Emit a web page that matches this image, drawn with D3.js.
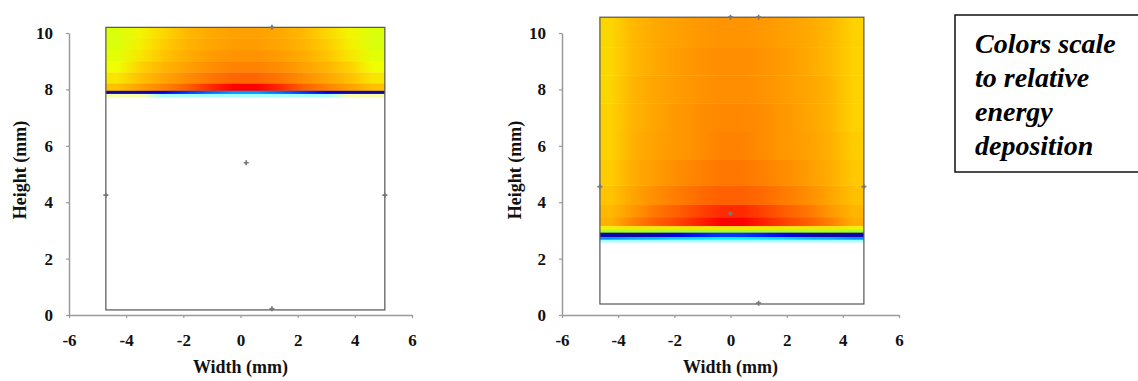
<!DOCTYPE html>
<html>
<head>
<meta charset="utf-8">
<script src="https://cdn.jsdelivr.net/npm/d3@7"></script>
</head>
<body style="margin:0">
<script>
// axis ticks shared by both panels
const xTicks = [-6, -4, -2, 0, 2, 4, 6];
const yTicks = [0, 2, 4, 6, 8, 10];

// left panel: sample outline (mm) and energy band
const leftSlab = { x0: -4.71, x1: 5.05, y0: 0.18, y1: 10.2 };
// row edges from top to bottom (mm)
const leftRowEdges = [10.2, 9.8, 9.4, 9.0, 8.6, 8.2, 7.95, 7.85];
// relative energy deposition, one row per band, 12 columns left to right
const leftValues = [
  [0.52, 0.57, 0.63, 0.70, 0.74, 0.76, 0.76, 0.74, 0.70, 0.63, 0.57, 0.52],
  [0.52, 0.58, 0.65, 0.71, 0.75, 0.77, 0.77, 0.75, 0.71, 0.65, 0.58, 0.52],
  [0.53, 0.60, 0.67, 0.73, 0.77, 0.79, 0.79, 0.77, 0.73, 0.67, 0.60, 0.53],
  [0.55, 0.64, 0.71, 0.76, 0.80, 0.82, 0.82, 0.80, 0.76, 0.71, 0.64, 0.55],
  [0.60, 0.68, 0.75, 0.80, 0.84, 0.87, 0.87, 0.84, 0.80, 0.75, 0.68, 0.60],
  [0.68, 0.76, 0.82, 0.88, 0.95, 1.00, 1.00, 0.95, 0.88, 0.82, 0.76, 0.68],
  [0.04, 0.05, 0.10, 0.16, 0.20, 0.23, 0.23, 0.20, 0.16, 0.10, 0.05, 0.04]
];
// faint band just under the slab edge
const leftHaloEdges = [7.85, 7.72];
const leftHalo = [0.55, 0.55, 0.30, 0.30, 0.30, 0.30, 0.30, 0.30, 0.30, 0.30, 0.55, 0.55];
const leftMarkers = [[0.2, 5.4], [-4.71, 4.25], [5.05, 4.25], [1.1, 10.2], [1.1, 0.22]];

// right panel
const rightSlab = { x0: -4.65, x1: 4.75, y0: 0.39, y1: 10.56 };
const rightRowEdges = [10.56, 9.5, 8.5, 7.5, 6.5, 5.5, 4.6, 3.9, 3.45, 3.15, 3.02, 2.92, 2.76, 2.68];
const rightValues = [
  [0.63, 0.70, 0.74, 0.76, 0.78, 0.79, 0.79, 0.78, 0.76, 0.74, 0.70, 0.64],
  [0.63, 0.70, 0.74, 0.77, 0.79, 0.80, 0.80, 0.79, 0.77, 0.74, 0.70, 0.64],
  [0.63, 0.71, 0.75, 0.77, 0.79, 0.80, 0.80, 0.79, 0.77, 0.75, 0.71, 0.64],
  [0.64, 0.71, 0.75, 0.78, 0.80, 0.81, 0.81, 0.80, 0.78, 0.75, 0.71, 0.64],
  [0.64, 0.72, 0.76, 0.78, 0.80, 0.82, 0.82, 0.80, 0.78, 0.76, 0.72, 0.65],
  [0.65, 0.73, 0.77, 0.80, 0.82, 0.84, 0.84, 0.82, 0.80, 0.77, 0.73, 0.66],
  [0.67, 0.75, 0.80, 0.83, 0.86, 0.88, 0.88, 0.86, 0.83, 0.80, 0.75, 0.68],
  [0.70, 0.78, 0.84, 0.88, 0.92, 0.95, 0.95, 0.92, 0.88, 0.84, 0.78, 0.71],
  [0.72, 0.82, 0.88, 0.92, 0.96, 1.00, 1.00, 0.96, 0.92, 0.88, 0.82, 0.73],
  [0.58, 0.60, 0.60, 0.60, 0.60, 0.60, 0.60, 0.60, 0.60, 0.60, 0.60, 0.58],
  [0.45, 0.46, 0.46, 0.46, 0.46, 0.46, 0.46, 0.46, 0.46, 0.46, 0.46, 0.45],
  [0.05, 0.04, 0.06, 0.10, 0.14, 0.16, 0.16, 0.14, 0.10, 0.06, 0.04, 0.05],
  [0.22, 0.24, 0.25, 0.27, 0.28, 0.29, 0.29, 0.28, 0.27, 0.25, 0.24, 0.22]
];
const rightHaloEdges = [2.68, 2.58];
const rightHalo = [0.30, 0.30, 0.30, 0.30, 0.30, 0.30, 0.30, 0.30, 0.30, 0.30, 0.30, 0.30];
const rightMarkers = [[-4.65, 4.55], [4.75, 4.55], [0, 10.56], [1.0, 10.56], [1.0, 0.42], [0, 3.6]];

const legendLines = ['Colors scale', 'to relative', 'energy', 'deposition'];

const fontName = 'Liberation Serif';

const color = d3.scaleLinear()
  .domain([0, 0.12, 0.3, 0.45, 0.55, 0.65, 0.78, 0.9, 1])
  .range(['#1a0a70', '#0000ff', '#00ffff', '#a8ff20', '#f0ff00', '#ffcc00', '#ff9900', '#ff5500', '#ff0000'])
  .clamp(true);

const svg = d3.select('body').append('svg').attr('width', 1138).attr('height', 381);
const defs = svg.append('defs');

const y = d3.scaleLinear().domain([0, 10]).range([315, 33]);

// one rect per row, filled with a horizontal gradient through its cell values
function drawRows(g, x, id, edges, rows, slab, opacity) {
  rows.forEach((row, i) => {
    let gradId = 'grad-' + id + '-' + i;
    let grad = defs.append('linearGradient')
      .attr('id', gradId)
      .attr('x1', 0).attr('x2', 1).attr('y1', 0).attr('y2', 0);
    grad.selectAll('stop')
      .data(row)
      .enter().append('stop')
      .attr('offset', (v, j) => (j + 0.5) / row.length)
      .attr('stop-color', v => color(v));

    g.append('rect')
      .attr('x', x(slab.x0))
      .attr('y', y(edges[i]))
      .attr('width', x(slab.x1) - x(slab.x0))
      .attr('height', y(edges[i + 1]) - y(edges[i]) + 0.3)
      .attr('fill', 'url(#' + gradId + ')')
      .attr('opacity', opacity);
  });
}

function drawPanel(cfg) {
  let x = d3.scaleLinear().domain([-6, 6]).range(cfg.xRange);
  let g = svg.append('g');

  drawRows(g, x, cfg.id + '-halo', cfg.haloEdges, [cfg.halo], cfg.slab, 0.35);
  drawRows(g, x, cfg.id, cfg.rowEdges, cfg.values, cfg.slab, 1);

  // slab outline
  g.append('rect')
    .attr('x', x(cfg.slab.x0))
    .attr('y', y(cfg.slab.y1))
    .attr('width', x(cfg.slab.x1) - x(cfg.slab.x0))
    .attr('height', y(cfg.slab.y0) - y(cfg.slab.y1))
    .attr('fill', 'none')
    .attr('stroke', '#555')
    .attr('stroke-width', 1.2);

  // axes
  let xAxis = g.append('g')
    .attr('transform', 'translate(0,' + y(0) + ')')
    .call(d3.axisBottom(x).tickValues(xTicks).tickSize(3).tickSizeOuter(0).tickPadding(16).tickFormat(d => String(d)));
  let yAxis = g.append('g')
    .attr('transform', 'translate(' + x(-6) + ',0)')
    .call(d3.axisLeft(y).tickValues(yTicks).tickSize(3).tickSizeOuter(0).tickPadding(13).tickFormat(d => String(d)));

  [xAxis, yAxis].forEach(a => {
    a.attr('font-family', fontName).attr('font-size', 17).attr('font-weight', 'bold');
    a.select('.domain').attr('stroke', '#9a9a9a').attr('stroke-width', 1.5);
    a.selectAll('.tick line').attr('stroke', '#9a9a9a').attr('stroke-width', 1.2);
    a.selectAll('.tick text').attr('fill', '#111');
  });

  // small markers
  g.selectAll('path.marker')
    .data(cfg.markers)
    .enter().append('path')
    .attr('class', 'marker')
    .attr('d', d3.symbol().type(d3.symbolCross).size(14))
    .attr('transform', d => 'translate(' + x(d[0]) + ',' + y(d[1]) + ')')
    .attr('fill', '#777');

  g.append('text')
    .attr('x', x(0))
    .attr('y', 373)
    .attr('text-anchor', 'middle')
    .attr('font-family', fontName)
    .attr('font-weight', 'bold')
    .attr('font-size', 18)
    .attr('fill', '#111')
    .text('Width (mm)');

  g.append('text')
    .attr('transform', 'translate(' + cfg.yTitleX + ',170) rotate(-90)')
    .attr('text-anchor', 'middle')
    .attr('dy', '0.35em')
    .attr('font-family', fontName)
    .attr('font-weight', 'bold')
    .attr('font-size', 18)
    .attr('fill', '#111')
    .text('Height (mm)');
}

drawPanel({
  id: 'left', xRange: [69, 412], yTitleX: 20,
  slab: leftSlab, rowEdges: leftRowEdges, values: leftValues,
  haloEdges: leftHaloEdges, halo: leftHalo, markers: leftMarkers
});

drawPanel({
  id: 'right', xRange: [562, 899], yTitleX: 515,
  slab: rightSlab, rowEdges: rightRowEdges, values: rightValues,
  haloEdges: rightHaloEdges, halo: rightHalo, markers: rightMarkers
});

// legend box
let legend = svg.append('g');
legend.append('rect')
  .attr('x', 955).attr('y', 15)
  .attr('width', 200).attr('height', 157)
  .attr('fill', '#fff')
  .attr('stroke', '#111')
  .attr('stroke-width', 1.5);

legend.selectAll('text')
  .data(legendLines)
  .enter().append('text')
  .attr('x', 975)
  .attr('y', (d, i) => 53 + i * 34)
  .attr('font-family', fontName)
  .attr('font-weight', 'bold')
  .attr('font-style', 'italic')
  .attr('font-size', 28)
  .attr('fill', '#000')
  .text(d => d);
</script>
</body>
</html>
